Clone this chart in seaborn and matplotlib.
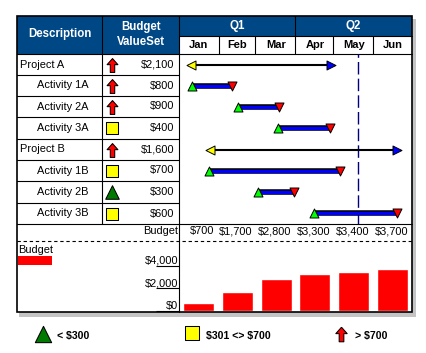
import numpy as np
import pandas as pd
import seaborn as sns
import matplotlib
matplotlib.use('Agg')
import matplotlib.pyplot as plt
from matplotlib.patches import Rectangle

# chart data
quarters = ['Q1', 'Q2']
months = ['Jan', 'Feb', 'Mar', 'Apr', 'May', 'Jun']
month_days = [31, 28, 31, 30, 31, 30]
budget_by_month = [700, 1700, 2800, 3300, 3400, 3700]
budget_ticks = [0, 2000, 4000]

tasks = ['Project A', 'Activity 1A', 'Activity 2A', 'Activity 3A',
         'Project B', 'Activity 1B', 'Activity 2B', 'Activity 3B']
task_budget = [2100, 800, 900, 400, 1600, 700, 300, 600]
task_start = [9, 10, 46, 77, 24, 23, 61, 105]   # day of the half year
task_end = [118, 41, 78, 117, 169, 125, 89, 169]
status_day = 139

WIDTH, HEIGHT = 426, 353
HEADER = '#004785'
FONT = 'Liberation Sans'

sns.set_theme(style='white')
plt.rcParams['font.family'] = [FONT, 'DejaVu Sans']
plt.rcParams['font.size'] = 7.9
plt.rcParams['text.parse_math'] = False

ARROW = [(0, 1), (0.78, 0.12), (0.32, 0.12), (0.32, -1), (-0.32, -1), (-0.32, 0.12), (-0.78, 0.12), (0, 1)]
GREEN_DARK = '#007a00'


def pane(x0, y0, x1, y1):
    return [x0 / WIDTH, 1 - y1 / HEIGHT, (x1 - x0) / WIDTH, (y1 - y0) / HEIGHT]


def icon(ax, x, y, kind, scale=1.0):
    styles = {
        'low': dict(marker='^', color=GREEN_DARK, s=95 * scale),
        'mid': dict(marker='s', color='#ffff00', s=70 * scale),
        'high': dict(marker=ARROW, color='#ff0000', s=100 * scale),
    }
    sns.scatterplot(x=[x], y=[y], ax=ax, edgecolor='black', linewidth=0.75, legend=False, zorder=5, **styles[kind])


fig = plt.figure(figsize=(WIDTH / 100, HEIGHT / 100), dpi=100)

### 1) table frame in pixel coordinates
base = fig.add_axes([0, 0, 1, 1])
base.set_xlim(0, WIDTH)
base.set_ylim(HEIGHT, 0)
base.axis('off')

L, R, C1, C2, TOP, MID, HEAD, BOTTOM = 17, 412, 102, 179, 16, 36, 54, 312
base.add_patch(Rectangle((L + 2, TOP + 3), R - L + 2, BOTTOM - TOP + 2, color='#c4c4c4', lw=0))
base.add_patch(Rectangle((L, TOP), R - L, BOTTOM - TOP, facecolor='white', edgecolor='none'))
base.add_patch(Rectangle((L, TOP), C2 - L, HEAD - TOP, color=HEADER, lw=0))
base.add_patch(Rectangle((C2, TOP), R - C2, MID - TOP, color=HEADER, lw=0))

row_edges = [54, 75, 96, 117, 139, 160, 181, 203, 224]
for y in row_edges[1:-1]:
    base.plot([L, C2], [y, y], color='black', lw=0.8)
base.plot([L, R], [HEAD, HEAD], color='black', lw=0.8)
base.plot([L, R], [row_edges[-1], row_edges[-1]], color='black', lw=0.8)
base.plot([C2, R], [MID, MID], color='black', lw=0.8)
base.plot([C1, C1], [TOP, row_edges[-1]], color='black', lw=0.8)
base.plot([C2, C2], [TOP, BOTTOM], color='black', lw=0.8)
base.plot([L, R], [241, 241], color='black', lw=0.8, ls=(0, (3, 2.5)))
base.add_patch(Rectangle((L, TOP), R - L, BOTTOM - TOP, fill=False, edgecolor='black', lw=1.2, zorder=6))

px_per_day = (R - C2) / sum(month_days)
month_edges = C2 + np.cumsum(month_days) * px_per_day
for i, x in enumerate(month_edges[:-1]):
    base.plot([x, x], [MID, HEAD], color='black', lw=0.8)
base.plot([month_edges[2]] * 2, [TOP, MID], color='black', lw=0.8)

### 2) header text
head = dict(color='white', fontweight='bold', ha='center', va='center', fontsize=8.3)
base.text(60, 34.5, 'Description', **head)
base.text(141, 27, 'Budget', **head)
base.text(141, 42, 'ValueSet', **head)
q_edges = [C2, month_edges[2], R]
for i, q in enumerate(quarters):
    base.text((q_edges[i] + q_edges[i + 1]) / 2, 26.5, q, **head)

### 3) task rows
for i, name in enumerate(tasks):
    mid_y = (row_edges[i] + row_edges[i + 1]) / 2
    base.text(20 if name.startswith('Project') else 37, mid_y, name, va='center', color='black')
    base.text(174, mid_y, f'${task_budget[i]:,}', va='center', ha='right', color='black')
    kind = 'low' if task_budget[i] <= 300 else 'mid' if task_budget[i] <= 700 else 'high'
    icon(base, 111.5, mid_y, kind)

### 4) gantt bars
gantt = fig.add_axes(pane(C2, row_edges[0], R, row_edges[-1]))
gantt.patch.set_alpha(0)
rows = pd.DataFrame({'task': tasks, 'row': np.arange(len(tasks)), 'start': task_start, 'end': task_end})
rows['project'] = rows['task'].str.startswith('Project')
long_rows = rows.melt(id_vars=['task', 'row', 'project'], value_vars=['start', 'end'], value_name='day')
projects = long_rows[long_rows['project']]
activities = long_rows[~long_rows['project']]

gantt.axvline(status_day, color='#000080', lw=1.0, ls=(0, (9, 3)), zorder=1)
sns.lineplot(data=projects, x='day', y='row', units='task', estimator=None, sort=False,
             color='black', lw=1.5, ax=gantt, legend=False, zorder=2)
sns.lineplot(data=activities, x='day', y='row', units='task', estimator=None, sort=False,
             color='black', lw=4.0, ax=gantt, legend=False, zorder=2, solid_capstyle='butt')
sns.lineplot(data=activities, x='day', y='row', units='task', estimator=None, sort=False,
             color='#0000ff', lw=2.4, ax=gantt, legend=False, zorder=3, solid_capstyle='butt')

marks = dict(ax=gantt, edgecolor='black', linewidth=0.7, legend=False, zorder=4, clip_on=False)
p = rows[rows['project']]
a = rows[~rows['project']]
sns.scatterplot(data=p, x='start', y='row', marker='<', color='#ffff00', s=42, **marks)
sns.scatterplot(data=p, x='end', y='row', marker='>', color='#0000ff', s=42, **marks)
sns.scatterplot(data=a, x='start', y='row', marker='^', color='#00ff00', s=42, **marks)
sns.scatterplot(data=a, x='end', y='row', marker='v', color='#ff0000', s=42, **marks)
gantt.set_xlim(0, sum(month_days))
gantt.set_ylim(len(tasks) - 0.5, -0.5)
gantt.axis('off')

### 5) budget bars
bars = fig.add_axes(pane(C2, 241, R, 311))
bars.patch.set_alpha(0)
budget_df = pd.DataFrame({'month': months, 'budget': budget_by_month})
sns.barplot(data=budget_df, x='month', y='budget', color='#ff0000', saturation=1, width=0.8, ax=bars)
bars.set_xlim(-0.5, 5.5)
bars.set_ylim(0, 6170)
bars.set_xlabel('')
bars.set_ylabel('')
sns.despine(ax=bars, left=True, bottom=True, right=True, top=True)
bars.set_yticks(budget_ticks)
bars.set_yticklabels([f'${v:,}' for v in budget_ticks], va='bottom', color='black')
bars.tick_params(axis='y', left=True, length=16.5, width=0.8, color='black', pad=-16, labelsize=7.9)
bars.tick_params(axis='x', pad=0, top=True, labeltop=True, bottom=False, labelbottom=False,
                 length=0, labelcolor='black')
# month names sit in the header row, above the budget and gantt panes
bars.set_xticks(range(len(months)))
bars.set_xticklabels(months, fontweight='bold', fontsize=8)
for t in bars.get_xticklabels():
    t.set_y(1 + (241 - 45) / 70)
    t.set_va('center')

trans = bars.get_xaxis_transform()
for i, v in enumerate(budget_by_month):
    bars.text(i + 0.4, 1 + 10 / 70, f'${v:,}', transform=trans, ha='right', va='center', color='black')
base.text(178, 231, 'Budget', ha='right', va='center', color='black')

base.text(18, 250, 'Budget', va='center', color='black')
base.add_patch(Rectangle((18, 256), 34, 9, color='#ff0000', lw=0))

### 6) legend under the table
icon(base, 43, 334, 'low', 1.45)
icon(base, 192, 333, 'mid', 1.35)
icon(base, 341, 334, 'high', 1.1)
base.text(57, 336, '< $300', va='center', color='black', fontweight='bold', fontsize=7.6)
base.text(206, 336, '$301 <> $700', va='center', color='black', fontweight='bold', fontsize=7.6)
base.text(355, 336, '> $700', va='center', color='black', fontweight='bold', fontsize=7.6)
base.set_xlim(0, WIDTH)
base.set_ylim(HEIGHT, 0)
base.set_xlabel('')
base.set_ylabel('')

fig.savefig('out.png', dpi=100)
